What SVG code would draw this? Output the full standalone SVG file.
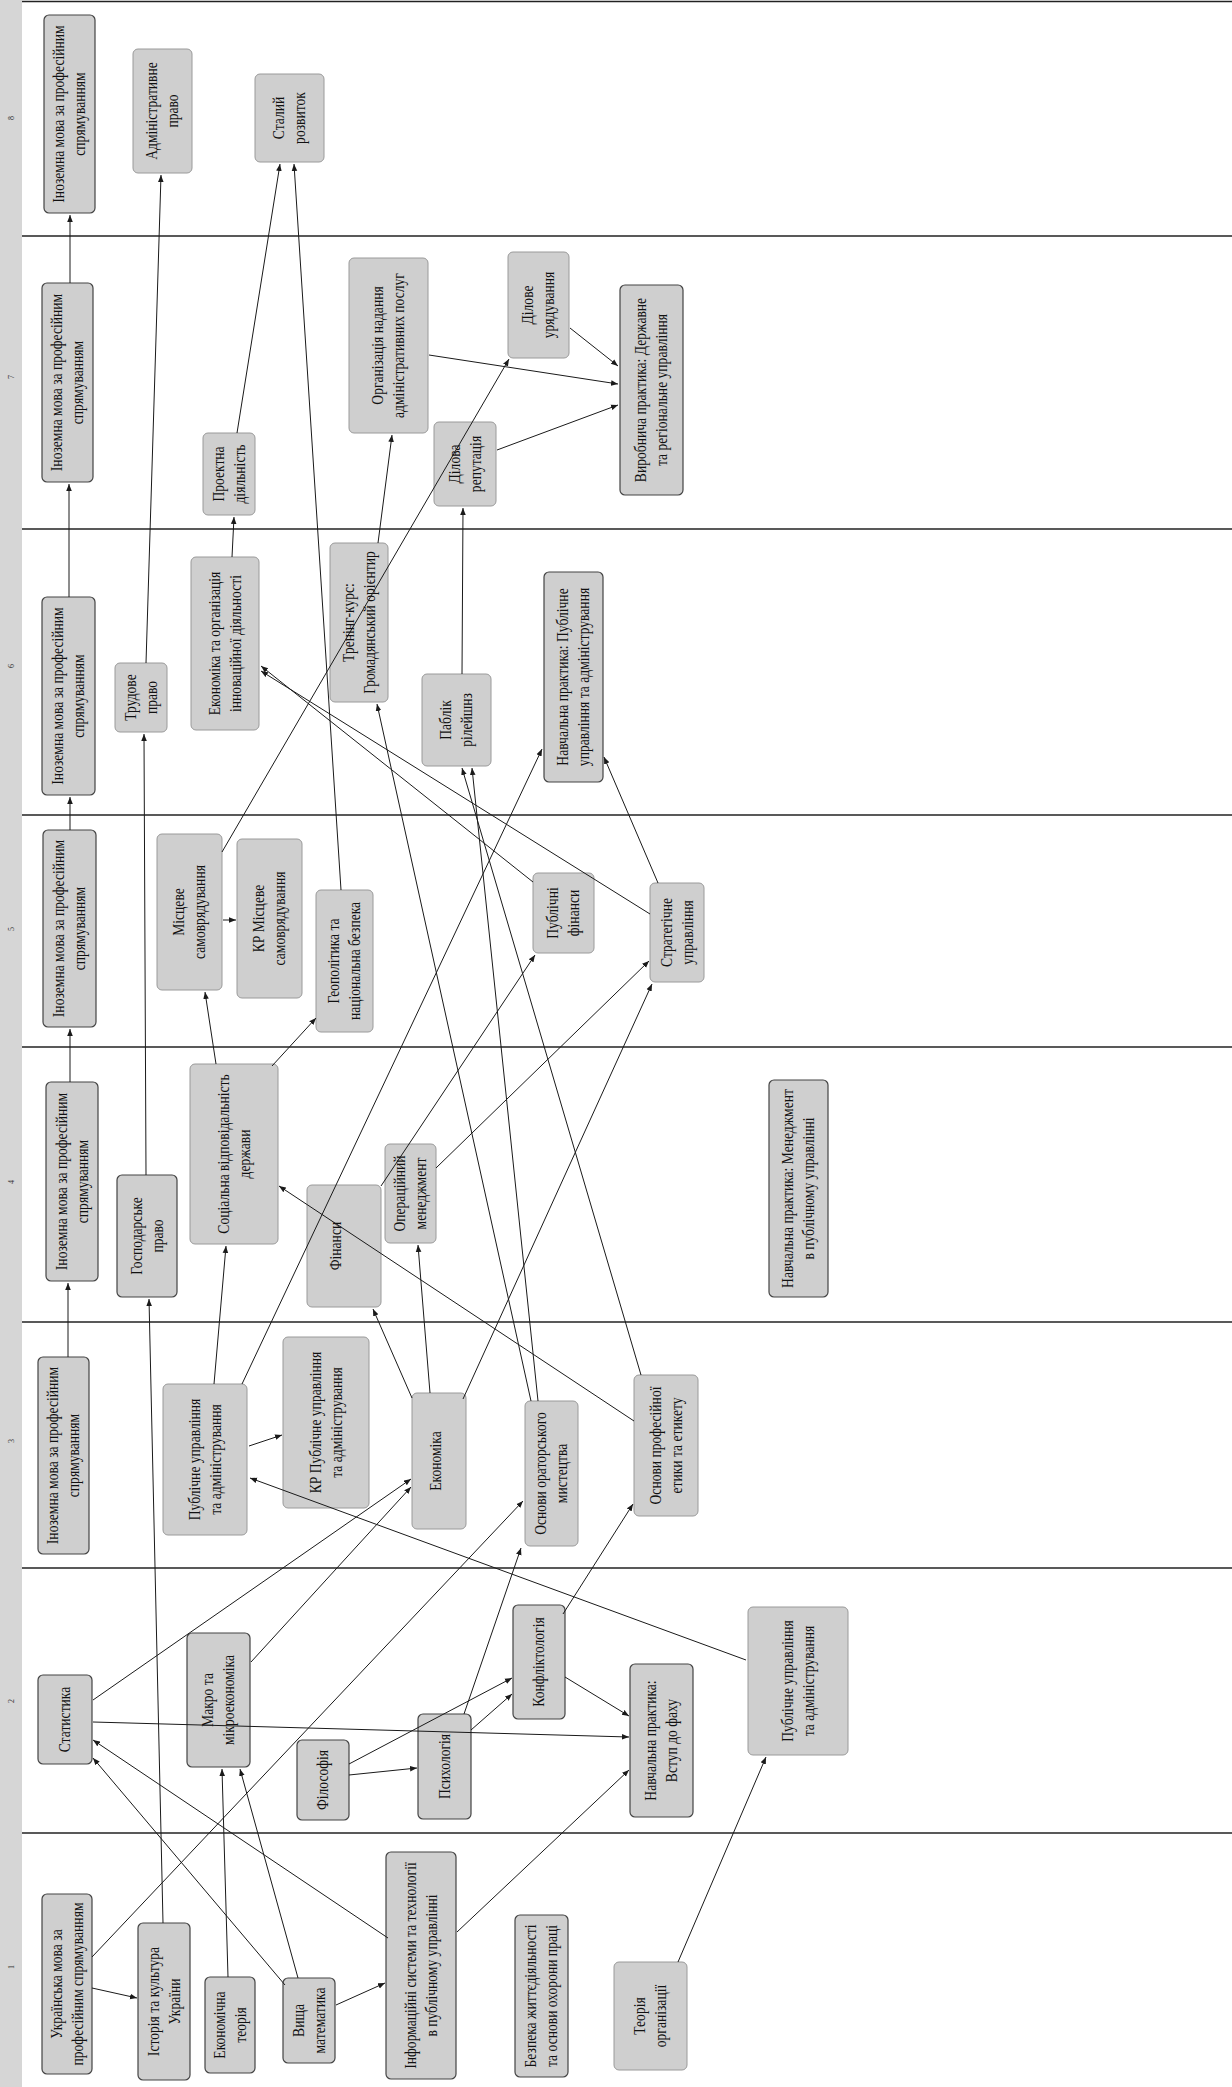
<svg xmlns="http://www.w3.org/2000/svg" width="1232" height="2087" viewBox="0 0 1232 2087">
<style>
.bg{fill:#ffffff}
.strip{fill:#d6d6d6}
.band{stroke:#222;stroke-width:1.6}
.sem{font-family:"Liberation Serif",serif;font-size:8px;fill:#333}
.n rect{fill:#cfcfcf;stroke:#9a9a9a;stroke-width:1}
.n.b rect{stroke:#444;stroke-width:1.2}
.n text{font-family:"Liberation Serif","DejaVu Serif",serif;font-size:16px;fill:#111;text-anchor:middle;dominant-baseline:central}
#connectors line{stroke:#1a1a1a;stroke-width:1;fill:none;marker-end:url(#ah)}
</style>
<defs>
<marker id="ah" viewBox="0 0 10 10" refX="10" refY="5" markerWidth="7" markerHeight="7" orient="auto" markerUnits="userSpaceOnUse">
<path d="M0,1 L10,5 L0,9 z" fill="#1a1a1a"/>
</marker>
</defs>
<rect class="bg" x="0" y="0" width="1232" height="2087"/>
<rect class="strip" x="0" y="0" width="22" height="2087"/>
<g id="bands">
<line class="band" x1="22" y1="1.5" x2="1232" y2="1.5"/>
<line class="band" x1="22" y1="236" x2="1232" y2="236"/>
<line class="band" x1="22" y1="529" x2="1232" y2="529"/>
<line class="band" x1="22" y1="815" x2="1232" y2="815"/>
<line class="band" x1="22" y1="1047" x2="1232" y2="1047"/>
<line class="band" x1="22" y1="1322" x2="1232" y2="1322"/>
<line class="band" x1="22" y1="1568" x2="1232" y2="1568"/>
<line class="band" x1="22" y1="1833" x2="1232" y2="1833"/>
</g>
<g id="semesters">
<text class="sem" transform="translate(14 120) rotate(-90)">8</text>
<text class="sem" transform="translate(14 379) rotate(-90)">7</text>
<text class="sem" transform="translate(14 668) rotate(-90)">6</text>
<text class="sem" transform="translate(14 931) rotate(-90)">5</text>
<text class="sem" transform="translate(14 1184) rotate(-90)">4</text>
<text class="sem" transform="translate(14 1443) rotate(-90)">3</text>
<text class="sem" transform="translate(14 1703) rotate(-90)">2</text>
<text class="sem" transform="translate(14 1969) rotate(-90)">1</text>
</g>

<g id="n8a" class="n b"><rect x="44" y="15" width="51" height="198" rx="5"/><text transform="translate(69.5 114) rotate(-90) scale(0.85 1)"><tspan x="0" dy="-0.65em">Іноземна мова за професійним</tspan><tspan x="0" dy="1.3em">спрямуванням</tspan></text></g>
<g id="n8b" class="n"><rect x="133" y="49" width="59" height="124" rx="5"/><text transform="translate(162.5 111) rotate(-90) scale(0.85 1)"><tspan x="0" dy="-0.65em">Адміністративне</tspan><tspan x="0" dy="1.3em">право</tspan></text></g>
<g id="n8c" class="n"><rect x="255" y="74" width="69" height="88" rx="5"/><text transform="translate(289.5 118) rotate(-90) scale(0.85 1)"><tspan x="0" dy="-0.65em">Сталий</tspan><tspan x="0" dy="1.3em">розвиток</tspan></text></g>

<g id="n7a" class="n b"><rect x="42" y="283" width="51" height="199" rx="5"/><text transform="translate(67.5 382.5) rotate(-90) scale(0.85 1)"><tspan x="0" dy="-0.65em">Іноземна мова за професійним</tspan><tspan x="0" dy="1.3em">спрямуванням</tspan></text></g>
<g id="n7b" class="n"><rect x="203" y="433" width="52" height="82" rx="5"/><text transform="translate(229 474) rotate(-90) scale(0.85 1)"><tspan x="0" dy="-0.65em">Проектна</tspan><tspan x="0" dy="1.3em">діяльність</tspan></text></g>
<g id="n7c" class="n"><rect x="349" y="258" width="79" height="175" rx="5"/><text transform="translate(388.5 345.5) rotate(-90) scale(0.85 1)"><tspan x="0" dy="-0.65em">Організація надання</tspan><tspan x="0" dy="1.3em">адміністративних послуг</tspan></text></g>
<g id="n7d" class="n"><rect x="434" y="422" width="62" height="84" rx="5"/><text transform="translate(465 464) rotate(-90) scale(0.85 1)"><tspan x="0" dy="-0.65em">Ділова</tspan><tspan x="0" dy="1.3em">репутація</tspan></text></g>
<g id="n7e" class="n"><rect x="508" y="252" width="61" height="106" rx="5"/><text transform="translate(538.5 305) rotate(-90) scale(0.85 1)"><tspan x="0" dy="-0.65em">Ділове</tspan><tspan x="0" dy="1.3em">урядування</tspan></text></g>
<g id="n7f" class="n b"><rect x="620" y="285" width="63" height="210" rx="5"/><text transform="translate(651.5 390) rotate(-90) scale(0.85 1)"><tspan x="0" dy="-0.65em">Виробнича практика: Державне</tspan><tspan x="0" dy="1.3em">та регіональне управління</tspan></text></g>

<g id="n6a" class="n b"><rect x="42" y="597" width="53" height="198" rx="5"/><text transform="translate(68.5 696) rotate(-90) scale(0.85 1)"><tspan x="0" dy="-0.65em">Іноземна мова за професійним</tspan><tspan x="0" dy="1.3em">спрямуванням</tspan></text></g>
<g id="n6b" class="n"><rect x="115" y="663" width="52" height="69" rx="5"/><text transform="translate(141 697.5) rotate(-90) scale(0.85 1)"><tspan x="0" dy="-0.65em">Трудове</tspan><tspan x="0" dy="1.3em">право</tspan></text></g>
<g id="n6c" class="n"><rect x="191" y="557" width="68" height="173" rx="5"/><text transform="translate(225 643.5) rotate(-90) scale(0.85 1)"><tspan x="0" dy="-0.65em">Економіка та організація</tspan><tspan x="0" dy="1.3em">інноваційної діяльності</tspan></text></g>
<g id="n6d" class="n"><rect x="330" y="543" width="58" height="159" rx="5"/><text transform="translate(359 622.5) rotate(-90) scale(0.85 1)"><tspan x="0" dy="-0.65em">Тренінг-курс:</tspan><tspan x="0" dy="1.3em">Громадянський орієнтир</tspan></text></g>
<g id="n6e" class="n"><rect x="422" y="674" width="69" height="92" rx="5"/><text transform="translate(456.5 720) rotate(-90) scale(0.85 1)"><tspan x="0" dy="-0.65em">Паблік</tspan><tspan x="0" dy="1.3em">рілейшнз</tspan></text></g>
<g id="n6f" class="n b"><rect x="544" y="572" width="59" height="210" rx="5"/><text transform="translate(573.5 677) rotate(-90) scale(0.85 1)"><tspan x="0" dy="-0.65em">Навчальна практика: Публічне</tspan><tspan x="0" dy="1.3em">управління та адміністрування</tspan></text></g>

<g id="n5a" class="n b"><rect x="43" y="830" width="53" height="197" rx="5"/><text transform="translate(69.5 928.5) rotate(-90) scale(0.85 1)"><tspan x="0" dy="-0.65em">Іноземна мова за професійним</tspan><tspan x="0" dy="1.3em">спрямуванням</tspan></text></g>
<g id="n5b" class="n"><rect x="157" y="834" width="65" height="156" rx="5"/><text transform="translate(189.5 912) rotate(-90) scale(0.85 1)"><tspan x="0" dy="-0.65em">Місцеве</tspan><tspan x="0" dy="1.3em">самоврядування</tspan></text></g>
<g id="n5c" class="n"><rect x="237" y="839" width="65" height="159" rx="5"/><text transform="translate(269.5 918.5) rotate(-90) scale(0.85 1)"><tspan x="0" dy="-0.65em">КР Місцеве</tspan><tspan x="0" dy="1.3em">самоврядування</tspan></text></g>
<g id="n5d" class="n"><rect x="316" y="890" width="57" height="142" rx="5"/><text transform="translate(344.5 961) rotate(-90) scale(0.85 1)"><tspan x="0" dy="-0.65em">Геополітика та</tspan><tspan x="0" dy="1.3em">національна безпека</tspan></text></g>
<g id="n5e" class="n"><rect x="533" y="873" width="61" height="80" rx="5"/><text transform="translate(563.5 913) rotate(-90) scale(0.85 1)"><tspan x="0" dy="-0.65em">Публічні</tspan><tspan x="0" dy="1.3em">фінанси</tspan></text></g>
<g id="n5f" class="n"><rect x="650" y="883" width="54" height="99" rx="5"/><text transform="translate(677 932.5) rotate(-90) scale(0.85 1)"><tspan x="0" dy="-0.65em">Стратегічне</tspan><tspan x="0" dy="1.3em">управління</tspan></text></g>

<g id="n4a" class="n b"><rect x="46" y="1082" width="52" height="199" rx="5"/><text transform="translate(72 1181.5) rotate(-90) scale(0.85 1)"><tspan x="0" dy="-0.65em">Іноземна мова за професійним</tspan><tspan x="0" dy="1.3em">спрямуванням</tspan></text></g>
<g id="n4b" class="n b"><rect x="117" y="1175" width="60" height="122" rx="5"/><text transform="translate(147 1236) rotate(-90) scale(0.85 1)"><tspan x="0" dy="-0.65em">Господарське</tspan><tspan x="0" dy="1.3em">право</tspan></text></g>
<g id="n4c" class="n"><rect x="190" y="1064" width="88" height="180" rx="5"/><text transform="translate(234 1154) rotate(-90) scale(0.85 1)"><tspan x="0" dy="-0.65em">Соціальна відповідальність</tspan><tspan x="0" dy="1.3em">держави</tspan></text></g>
<g id="n4d" class="n"><rect x="307" y="1185" width="74" height="122" rx="5"/><text transform="translate(336 1246) rotate(-90) scale(0.85 1)">Фінанси</text></g>
<g id="n4e" class="n"><rect x="385" y="1144" width="51" height="99" rx="5"/><text transform="translate(410.5 1193.5) rotate(-90) scale(0.85 1)"><tspan x="0" dy="-0.65em">Операційний</tspan><tspan x="0" dy="1.3em">менеджмент</tspan></text></g>
<g id="n4f" class="n b"><rect x="769" y="1080" width="59" height="217" rx="5"/><text transform="translate(798.5 1188.5) rotate(-90) scale(0.85 1)"><tspan x="0" dy="-0.65em">Навчальна практика: Менеджмент</tspan><tspan x="0" dy="1.3em">в публічному управлінні</tspan></text></g>

<g id="n3a" class="n b"><rect x="38" y="1357" width="51" height="197" rx="5"/><text transform="translate(63.5 1455.5) rotate(-90) scale(0.85 1)"><tspan x="0" dy="-0.65em">Іноземна мова за професійним</tspan><tspan x="0" dy="1.3em">спрямуванням</tspan></text></g>
<g id="n3b" class="n"><rect x="163" y="1384" width="84" height="151" rx="5"/><text transform="translate(205 1459.5) rotate(-90) scale(0.85 1)"><tspan x="0" dy="-0.65em">Публічне управління</tspan><tspan x="0" dy="1.3em">та адміністрування</tspan></text></g>
<g id="n3c" class="n"><rect x="283" y="1337" width="86" height="171" rx="5"/><text transform="translate(326 1422.5) rotate(-90) scale(0.85 1)"><tspan x="0" dy="-0.65em">КР Публічне управління</tspan><tspan x="0" dy="1.3em">та адміністрування</tspan></text></g>
<g id="n3d" class="n"><rect x="412" y="1393" width="54" height="136" rx="5"/><text transform="translate(436 1461) rotate(-90) scale(0.85 1)">Економіка</text></g>
<g id="n3e" class="n"><rect x="525" y="1401" width="53" height="145" rx="5"/><text transform="translate(551.5 1473.5) rotate(-90) scale(0.85 1)"><tspan x="0" dy="-0.65em">Основи ораторського</tspan><tspan x="0" dy="1.3em">мистецтва</tspan></text></g>
<g id="n3f" class="n"><rect x="634" y="1375" width="64" height="141" rx="5"/><text transform="translate(666 1445.5) rotate(-90) scale(0.85 1)"><tspan x="0" dy="-0.65em">Основи професійної</tspan><tspan x="0" dy="1.3em">етики та етикету</tspan></text></g>

<g id="n2a" class="n b"><rect x="38" y="1675" width="54" height="89" rx="5"/><text transform="translate(65 1719.5) rotate(-90) scale(0.85 1)">Статистика</text></g>
<g id="n2b" class="n b"><rect x="187" y="1633" width="63" height="134" rx="5"/><text transform="translate(218.5 1700) rotate(-90) scale(0.85 1)"><tspan x="0" dy="-0.65em">Макро та</tspan><tspan x="0" dy="1.3em">мікроекономіка</tspan></text></g>
<g id="n2c" class="n b"><rect x="297" y="1740" width="52" height="80" rx="5"/><text transform="translate(323 1780) rotate(-90) scale(0.85 1)">Філософія</text></g>
<g id="n2d" class="n b"><rect x="418" y="1714" width="53" height="105" rx="5"/><text transform="translate(444.5 1766.5) rotate(-90) scale(0.85 1)">Психологія</text></g>
<g id="n2e" class="n b"><rect x="513" y="1605" width="52" height="114" rx="5"/><text transform="translate(539 1662) rotate(-90) scale(0.85 1)">Конфліктологія</text></g>
<g id="n2f" class="n b"><rect x="630" y="1664" width="63" height="153" rx="5"/><text transform="translate(661.5 1740.5) rotate(-90) scale(0.85 1)"><tspan x="0" dy="-0.65em">Навчальна практика:</tspan><tspan x="0" dy="1.3em">Вступ до фаху</tspan></text></g>
<g id="n2g" class="n"><rect x="748" y="1607" width="100" height="148" rx="5"/><text transform="translate(798 1681) rotate(-90) scale(0.85 1)"><tspan x="0" dy="-0.65em">Публічне управління</tspan><tspan x="0" dy="1.3em">та адміністрування</tspan></text></g>

<g id="n1a" class="n b"><rect x="42" y="1894" width="50" height="180" rx="5"/><text transform="translate(67 1984) rotate(-90) scale(0.85 1)"><tspan x="0" dy="-0.65em">Українська мова за</tspan><tspan x="0" dy="1.3em">професійним спрямуванням</tspan></text></g>
<g id="n1b" class="n b"><rect x="138" y="1923" width="52" height="157" rx="5"/><text transform="translate(164 2001.5) rotate(-90) scale(0.85 1)"><tspan x="0" dy="-0.65em">Історія та культура</tspan><tspan x="0" dy="1.3em">України</tspan></text></g>
<g id="n1c" class="n b"><rect x="205" y="1977" width="50" height="96" rx="5"/><text transform="translate(230 2025) rotate(-90) scale(0.85 1)"><tspan x="0" dy="-0.65em">Економічна</tspan><tspan x="0" dy="1.3em">теорія</tspan></text></g>
<g id="n1d" class="n b"><rect x="283" y="1978" width="52" height="85" rx="5"/><text transform="translate(309 2020.5) rotate(-90) scale(0.85 1)"><tspan x="0" dy="-0.65em">Вища</tspan><tspan x="0" dy="1.3em">математика</tspan></text></g>
<g id="n1e" class="n b"><rect x="386" y="1852" width="70" height="227" rx="5"/><text transform="translate(421 1965.5) rotate(-90) scale(0.85 1)"><tspan x="0" dy="-0.65em">Інформаційні системи та технології</tspan><tspan x="0" dy="1.3em">в публічному управлінні</tspan></text></g>
<g id="n1f" class="n b"><rect x="515" y="1915" width="53" height="162" rx="5"/><text transform="translate(541.5 1996) rotate(-90) scale(0.85 1)"><tspan x="0" dy="-0.65em">Безпека життєдіяльності</tspan><tspan x="0" dy="1.3em">та основи охорони праці</tspan></text></g>
<g id="n1g" class="n"><rect x="614" y="1962" width="73" height="108" rx="5"/><text transform="translate(650.5 2016) rotate(-90) scale(0.85 1)"><tspan x="0" dy="-0.65em">Теорія</tspan><tspan x="0" dy="1.3em">організації</tspan></text></g>

<g id="connectors">
<line x1="68" y1="1357" x2="68" y2="1283"/>
<line x1="70" y1="1082" x2="70" y2="1029"/>
<line x1="70" y1="830" x2="70" y2="797"/>
<line x1="69" y1="597" x2="69" y2="484"/>
<line x1="70" y1="283" x2="70" y2="215"/>
<line x1="163" y1="1923" x2="149" y2="1299"/>
<line x1="146" y1="1175" x2="144" y2="734"/>
<line x1="146" y1="663" x2="161" y2="175"/>
<line x1="249" y1="1446" x2="282" y2="1435"/>
<line x1="214" y1="1384" x2="226" y2="1246"/>
<line x1="242" y1="1384" x2="542" y2="749"/>
<line x1="746" y1="1660" x2="250" y2="1478"/>
<line x1="678" y1="1962" x2="766" y2="1757"/>
<line x1="457" y1="1932" x2="629" y2="1770"/>
<line x1="336" y1="2005" x2="385" y2="1983"/>
<line x1="92" y1="1988" x2="137" y2="1998"/>
<line x1="92" y1="1957" x2="523" y2="1501"/>
<line x1="228" y1="1977" x2="222" y2="1769"/>
<line x1="298" y1="1978" x2="240" y2="1769"/>
<line x1="285" y1="1985" x2="93" y2="1758"/>
<line x1="388" y1="1938" x2="93" y2="1740"/>
<line x1="93" y1="1722" x2="629" y2="1737"/>
<line x1="93" y1="1700" x2="411" y2="1479"/>
<line x1="251" y1="1662" x2="411" y2="1487"/>
<line x1="349" y1="1775" x2="417" y2="1768"/>
<line x1="349" y1="1764" x2="512" y2="1678"/>
<line x1="471" y1="1730" x2="512" y2="1694"/>
<line x1="565" y1="1677" x2="629" y2="1716"/>
<line x1="464" y1="1714" x2="521" y2="1548"/>
<line x1="563" y1="1614" x2="633" y2="1504"/>
<line x1="412" y1="1398" x2="373" y2="1309"/>
<line x1="430" y1="1393" x2="418" y2="1245"/>
<line x1="463" y1="1399" x2="652" y2="984"/>
<line x1="634" y1="1421" x2="279" y2="1186"/>
<line x1="531" y1="1401" x2="377" y2="704"/>
<line x1="538" y1="1401" x2="472" y2="768"/>
<line x1="641" y1="1375" x2="462" y2="768"/>
<line x1="216" y1="1064" x2="205" y2="992"/>
<line x1="272" y1="1066" x2="316" y2="1018"/>
<line x1="381" y1="1186" x2="535" y2="955"/>
<line x1="436" y1="1168" x2="649" y2="961"/>
<line x1="223" y1="920" x2="236" y2="920"/>
<line x1="533" y1="882" x2="261" y2="666"/>
<line x1="650" y1="914" x2="261" y2="671"/>
<line x1="658" y1="883" x2="604" y2="757"/>
<line x1="222" y1="852" x2="509" y2="359"/>
<line x1="341" y1="890" x2="294" y2="164"/>
<line x1="232" y1="557" x2="234" y2="517"/>
<line x1="378" y1="543" x2="392" y2="435"/>
<line x1="462" y1="674" x2="463" y2="508"/>
<line x1="429" y1="355" x2="618" y2="384"/>
<line x1="497" y1="450" x2="618" y2="405"/>
<line x1="570" y1="328" x2="618" y2="366"/>
<line x1="237" y1="433" x2="280" y2="164"/>
</g>
</svg>
